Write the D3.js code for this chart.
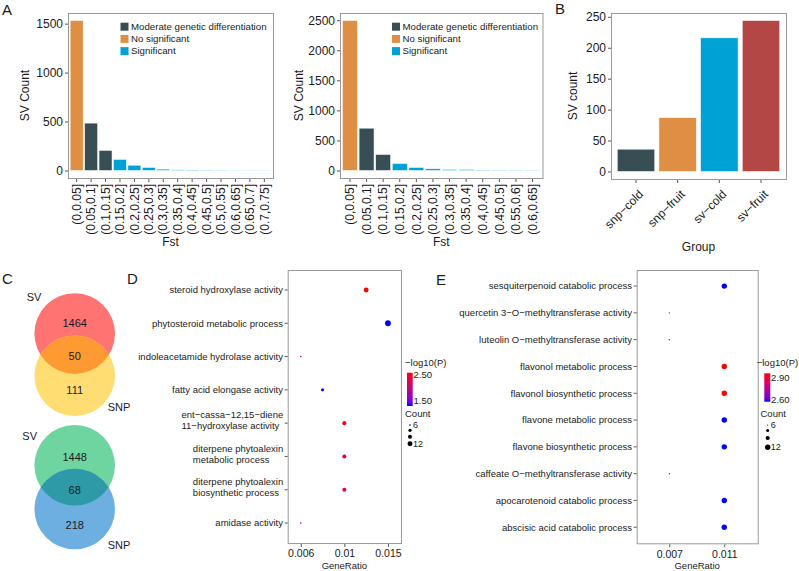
<!DOCTYPE html>
<html><head><meta charset="utf-8">
<script src="https://cdn.jsdelivr.net/npm/d3@7"></script>
<style>
body{margin:0;background:#fff}
svg{display:block}
text{font-family:"Liberation Sans",Arial,sans-serif;fill:#1a1a1a}
</style>
</head><body><script>
// ---------------- DATA ----------------
const fstCatsA1 = ["(0,0.05]","(0.05,0.1]","(0.1,0.15]","(0.15,0.2]","(0.2,0.25]","(0.25,0.3]","(0.3,0.35]","(0.35,0.4]","(0.4,0.45]","(0.45,0.5]","(0.5,0.55]","(0.6,0.65]","(0.65,0.7]","(0.7,0.75]"];
const svCountA1 = [1532,484,205,113,54,31,14,7,5,4,3,2,2,2];
const classA1 = ["No significant","Moderate genetic differentiation","Moderate genetic differentiation","Significant","Significant","Significant","Significant","Significant","Significant","Significant","Significant","Significant","Significant","Significant"];
const fstCatsA2 = ["(0,0.05]","(0.05,0.1]","(0.1,0.15]","(0.15,0.2]","(0.2,0.25]","(0.25,0.3]","(0.3,0.35]","(0.35,0.4]","(0.4,0.45]","(0.45,0.5]","(0.55,0.6]","(0.6,0.65]"];
const svCountA2 = [2495,704,266,116,50,28,17,17,8,6,5,4];
const classA2 = ["No significant","Moderate genetic differentiation","Moderate genetic differentiation","Significant","Significant","Significant","Significant","Significant","Significant","Significant","Significant","Significant"];
const yTicksA1 = [0,500,1000,1500];
const yTicksA2 = [0,500,1000,1500,2000,2500];
const legendClasses = ["Moderate genetic differentiation","No significant","Significant"];
const classColors = ["#374E55","#DF8F44","#00A1D5"];

const groupsB = ["snp\u2212cold","snp\u2212fruit","sv\u2212cold","sv\u2212fruit"];
const countsB = [36,87,216,244];
const colorsB = ["#374E55","#DF8F44","#00A1D5","#B24745"];
const yTicksB = [0,50,100,150,200,250];

const vennSets = ["SV","SNP"];
const venn1Counts = [1464,50,111];
const venn2Counts = [1448,68,218];

const termsD = ["steroid hydroxylase activity","phytosteroid metabolic process","indoleacetamide hydrolase activity","fatty acid elongase activity","ent\u2212cassa\u221212,15\u2212diene\n11\u2212hydroxylase activity","diterpene phytoalexin\nmetabolic process","diterpene phytoalexin\nbiosynthetic process","amidase activity"];
const geneRatioD = [0.01242,0.01449,0.00621,0.00828,0.01035,0.01035,0.01035,0.00621];
const countD = [12,14,6,8,10,10,10,6];
const logPD = [2.577,1.30,1.75,1.33,2.50,2.22,2.22,1.75];
const xTicksD = [0.00621,0.01035,0.01449];
const xTickLabelsD = ["0.006","0.01","0.015"];
const colorTicksD = [1.5,2.5];
const sizeTicksD = [6,8,10,12];

const termsE = ["sesquiterpenoid catabolic process","quercetin 3\u2212O\u2212methyltransferase activity","luteolin O\u2212methyltransferase activity","flavonol metabolic process","flavonol biosynthetic process","flavone metabolic process","flavone biosynthetic process","caffeate O\u2212methyltransferase activity","apocarotenoid catabolic process","abscisic acid catabolic process"];
const geneRatioE = [0.011,0.007,0.007,0.011,0.011,0.011,0.011,0.007,0.011,0.011];
const countE = [12,6,6,12,12,12,12,6,12,12];
const logPE = [2.571,2.571,2.571,2.96,2.96,2.571,2.571,2.571,2.571,2.571];
const xTicksE = [0.007,0.011];
const xTickLabelsE = ["0.007","0.011"];
const colorTicksE = [2.6,2.9];
const sizeTicksE = [6,8,10,12];

// ---------------- SVG ----------------
const W = 799, H = 571;
const svg = d3.select("body").append("svg").attr("width",W).attr("height",H);
svg.append("rect").attr("width",W).attr("height",H).attr("fill","#fff");
const BOX = "#9a9a9a", TICK = "#555";

function styleAxis(g, fs){
  g.select(".domain").remove();
  g.selectAll(".tick line").attr("stroke",TICK);
  g.selectAll(".tick text").attr("fill","#1a1a1a").style("font-size",fs+"px").style("font-family",'"Liberation Sans",Arial,sans-serif');
}

function barPanel(o){
  const x = d3.scaleBand().domain(o.cats).range([o.left,o.right]).paddingInner(0.1).paddingOuter(0.15);
  const m = d3.max(o.vals);
  const y = d3.scaleLinear().domain([-0.05*m,1.05*m]).range([o.bottom,o.top]);
  const g = svg.append("g");
  g.selectAll("rect.bar").data(o.vals).join("rect").attr("class","bar")
    .attr("x",(d,i)=>x(o.cats[i])).attr("width",x.bandwidth())
    .attr("y",d=>y(d)).attr("height",d=>y(0)-y(d))
    .attr("fill",(d,i)=>o.fills[i]).attr("stroke","#fff").attr("stroke-width",0.5);
  g.append("rect").attr("x",o.left+0.5).attr("y",o.top+0.5).attr("width",o.right-o.left).attr("height",o.bottom-o.top)
    .attr("fill","none").attr("stroke",BOX).attr("stroke-width",1);
  const ya = g.append("g").attr("transform",`translate(${o.left},0)`)
    .call(d3.axisLeft(y).tickValues(o.yTicks).tickFormat(d3.format("d")).tickSize(3).tickPadding(2));
  styleAxis(ya,12);
  const xa = g.append("g").attr("transform",`translate(0,${o.bottom+1})`)
    .call(d3.axisBottom(x).tickSize(3));
  styleAxis(xa,12);
  if(o.rot===90){
    xa.selectAll(".tick text").attr("y",0).attr("x",-5).attr("dy","0.35em")
      .attr("transform","rotate(-90)").attr("text-anchor","end");
  } else {
    xa.selectAll(".tick text").attr("y",0).attr("x",0).attr("dy","0.35em")
      .attr("transform","translate(5,12) rotate(-45)").attr("text-anchor","end");
  }
  const cy = (o.top+o.bottom)/2;
  g.append("text").attr("transform",`translate(${o.yTitleX},${cy}) rotate(-90)`)
    .attr("text-anchor","middle").attr("dy","0.35em").style("font-size","12px").text(o.yTitle);
  g.append("text").attr("x",(o.left+o.right)/2).attr("y",o.xTitleY)
    .attr("text-anchor","middle").style("font-size","12px").text(o.xTitle);
  if(o.legendX!==undefined){
    legendClasses.forEach((c,i)=>{
      const ly = 26.7 + i*12.2;
      g.append("rect").attr("x",o.legendX).attr("y",ly-4).attr("width",8).attr("height",8).attr("fill",classColors[i]);
      g.append("text").attr("x",o.legendX+10.5).attr("y",ly).attr("dy","0.35em").style("font-size","9.7px").text(c);
    });
  }
}

const colorOf = c => classColors[legendClasses.indexOf(c)];
barPanel({cats:fstCatsA1, vals:svCountA1, fills:classA1.map(colorOf), left:68, right:273, top:13, bottom:178,
  yTicks:yTicksA1, rot:90, yTitle:"SV Count", yTitleX:25, xTitle:"Fst", xTitleY:246, legendX:120.5});
barPanel({cats:fstCatsA2, vals:svCountA2, fills:classA2.map(colorOf), left:340, right:542.5, top:13, bottom:178,
  yTicks:yTicksA2, rot:90, yTitle:"SV Count", yTitleX:299, xTitle:"Fst", xTitleY:246, legendX:392});
barPanel({cats:groupsB, vals:countsB, fills:colorsB, left:611, right:786, top:13, bottom:179,
  yTicks:yTicksB, rot:45, yTitle:"SV count", yTitleX:573, xTitle:"Group", xTitleY:251});

// panel letters
[["A",2,15],["B",555,14],["C",2,284],["D",127,284],["E",436,285]].forEach(([t,x,y])=>{
  svg.append("text").attr("x",x).attr("y",y).style("font-size","15px").text(t);
});

// ---------------- Venn ----------------
function venn(id, cx, cyTop, cyBot, r, cTop, cBot, cOv, counts, numY, svPos, snpPos){
  const g = svg.append("g");
  g.append("clipPath").attr("id",id).append("circle").attr("cx",cx).attr("cy",cyTop).attr("r",r);
  g.append("circle").attr("cx",cx).attr("cy",cyTop).attr("r",r).attr("fill",cTop);
  g.append("circle").attr("cx",cx).attr("cy",cyBot).attr("r",r).attr("fill",cBot);
  g.append("circle").attr("cx",cx).attr("cy",cyBot).attr("r",r).attr("fill",cOv).attr("clip-path",`url(#${id})`);
  counts.forEach((c,i)=>{
    g.append("text").attr("x",cx).attr("y",numY[i]).attr("dy","0.35em").attr("text-anchor","middle")
      .style("font-size","11px").text(c);
  });
  g.append("text").attr("x",svPos[0]).attr("y",svPos[1]).attr("dy","0.35em").style("font-size","11px").text(vennSets[0]);
  g.append("text").attr("x",snpPos[0]).attr("y",snpPos[1]).attr("dy","0.35em").style("font-size","11px").text(vennSets[1]);
}
venn("vc1",74.7,333.6,375.7,40.3,"#ff7373","#ffdd73","#ff9a33",venn1Counts,[323,356,390],[26.7,296.7],[107.7,407]);
venn("vc2",74.7,465.3,509,40.3,"#6fd5a0","#6cafe0","#2e9aa8",venn2Counts,[457,490,525],[22.3,436],[107.7,545]);

// ---------------- Dot plots ----------------
function dotPanel(o){
  const g = svg.append("g");
  const y = d3.scalePoint().domain(o.terms).range([o.top,o.bottom]).padding(0.6);
  const x = d3.scaleLinear().domain(o.xDomain).range([o.left,o.right]);
  const col = d3.scaleLinear().domain(o.colorDomain).range(["blue","red"]).interpolate(d3.interpolateLab).clamp(true);
  const rs = d3.scaleLinear().domain(o.sizeDomain).range(o.sizeRange).clamp(true);
  g.append("rect").attr("x",o.left+0.5).attr("y",o.top+0.5).attr("width",o.right-o.left).attr("height",o.bottom-o.top)
    .attr("fill","none").attr("stroke",BOX);
  // y ticks
  o.terms.forEach(t=>{
    g.append("line").attr("x1",o.left-3).attr("x2",o.left).attr("y1",y(t)).attr("y2",y(t)).attr("stroke",TICK);
    const lines = t.split("\n");
    const tx = g.append("text").style("font-size","9.5px");
    const off = lines.length===1 ? [0] : [-8.1,2.8];
    lines.forEach((l,i)=>{
      tx.append("tspan").attr("x",0).attr("y",off[i]).attr("dy","0.35em").text(l);
    });
    const w = tx.node().getBBox().width;
    tx.attr("transform",`translate(${o.left-4.5-w},${y(t)})`);
  });
  // x axis
  const xa = g.append("g").attr("transform",`translate(0,${o.bottom+1})`)
    .call(d3.axisBottom(x).tickValues(o.xTicks).tickFormat((d,i)=>o.xTickLabels[i]).tickSize(3).tickPadding(3));
  styleAxis(xa,o.xFont);
  g.append("text").attr("x",(o.left+o.right)/2).attr("y",569).attr("text-anchor","middle")
    .style("font-size","9.5px").text("GeneRatio");
  // points
  g.selectAll("circle.pt").data(o.terms).join("circle").attr("class","pt")
    .attr("cx",(d,i)=>x(o.ratios[i])).attr("cy",d=>y(d))
    .attr("r",(d,i)=>rs(o.counts[i])).attr("fill",(d,i)=>col(o.logp[i]));
  // colour legend
  const L = o.leg;
  g.append("text").attr("x",L.titleX).attr("y",L.titleY).attr("dy","0.35em").style("font-size","9.5px").text("\u2212log10(P)");
  const gid = o.id+"grad";
  const grad = svg.append("defs").append("linearGradient").attr("id",gid).attr("x1",0).attr("x2",0).attr("y1",1).attr("y2",0);
  d3.range(0,1.0001,0.1).forEach(f=>{
    grad.append("stop").attr("offset",f).attr("stop-color",col(o.colorDomain[0]+f*(o.colorDomain[1]-o.colorDomain[0])));
  });
  g.append("rect").attr("x",L.barX).attr("y",L.barTop).attr("width",L.barW).attr("height",L.barBottom-L.barTop).attr("fill",`url(#${gid})`);
  const ly = d3.scaleLinear().domain(o.colorDomain).range([L.barBottom,L.barTop]);
  o.colorTicks.forEach(v=>{
    g.append("text").attr("x",L.barX+L.barW+0.8).attr("y",ly(v)).attr("dy","0.35em").style("font-size","9.5px").text(d3.format(".2f")(v));
  });
  g.append("text").attr("x",L.countX).attr("y",L.countY).attr("dy","0.35em").style("font-size","9.5px").text("Count");
  o.sizeTicks.forEach((s,i)=>{
    g.append("circle").attr("cx",L.dotX).attr("cy",L.dotY[i]).attr("r",rs(s)).attr("fill","#000");
  });
  [[0,o.sizeTicks[0]],[o.sizeTicks.length-1,o.sizeTicks[o.sizeTicks.length-1]]].forEach(([i,s])=>{
    g.append("text").attr("x",L.dotX+3).attr("y",L.dotY[i]).attr("dy","0.35em").style("font-size","9px").text(s);
  });
}

dotPanel({id:"d", terms:termsD, ratios:geneRatioD, counts:countD, logp:logPD,
  left:287.7, right:401, top:270, bottom:543,
  xDomain:[0.00497,0.01573], xTicks:xTicksD, xTickLabels:xTickLabelsD, xFont:10.5,
  colorDomain:[1.30,2.577], colorTicks:colorTicksD, sizeDomain:[6,8,14], sizeRange:[0.8,1.6,2.9], sizeTicks:sizeTicksD,
  leg:{titleX:405, titleY:363, barX:407, barW:5.7, barTop:372.7, barBottom:406, countX:405, countY:413.8, dotX:410, dotY:[425,430.3,436.7,443.7]}});

dotPanel({id:"e", terms:termsE, ratios:geneRatioE, counts:countE, logp:logPE,
  left:636.7, right:757.7, top:270, bottom:543.3,
  xDomain:[0.00463,0.01343], xTicks:xTicksE, xTickLabels:xTickLabelsE, xFont:10.5,
  colorDomain:[2.571,2.96], colorTicks:colorTicksE, sizeDomain:[6,8,12], sizeRange:[0.6,1.5,2.7], sizeTicks:sizeTicksE,
  leg:{titleX:756.7, titleY:362.3, barX:764.3, barW:6, barTop:373.3, barBottom:401.7, countX:760.5, countY:414, dotX:767.7, dotY:[425,430.5,438,447.3]}});
</script></body></html>
